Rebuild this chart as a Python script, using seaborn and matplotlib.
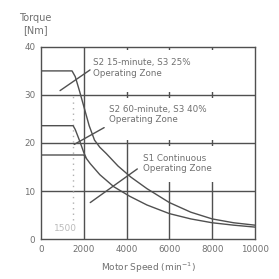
import matplotlib
matplotlib.use("Agg")
import matplotlib.pyplot as plt
import seaborn as sns
import pandas as pd
from matplotlib.patches import Rectangle

# S2 15-minute, S3 25% curve
speed_s2_15 = [0, 1450, 1600, 1800, 2050, 2250, 2500, 2750, 3050, 3600, 4200, 4950, 6000, 7000, 8000, 9000, 10000]
torque_s2_15 = [35, 35, 33.8, 30.8, 26.8, 23.6, 20.6, 19.1, 17.8, 15.2, 12.9, 10.5, 7.6, 5.6, 4.2, 3.4, 2.9]

# S2 60-minute, S3 40% curve (joins S1 curve near 2000)
speed_s2_60 = [0, 1500, 1600, 1800, 2000, 2100]
torque_s2_60 = [23.6, 23.6, 22.8, 20.5, 18.0, 17.0]

# S1 continuous curve
speed_s1 = [0, 2000, 2300, 2750, 3400, 4150, 4950, 6000, 7000, 8000, 9000, 10000]
torque_s1 = [17.5, 17.5, 15.7, 13.4, 10.9, 8.9, 7.1, 5.3, 4.2, 3.4, 2.9, 2.5]

x_ticks = [0, 2000, 4000, 6000, 8000, 10000]
y_ticks = [0, 10, 20, 30, 40]

zone_labels = ["S2 15-minute, S3 25%\nOperating Zone",
               "S2 60-minute, S3 40%\nOperating Zone",
               "S1 Continuous\nOperating Zone"]

sns.set_style("white")
plt.rcParams["font.family"] = ["DejaVu Sans"]

line_col = "#505050"
text_col = "#707070"

fig = plt.figure(figsize=(2.79, 2.79), dpi=100)
ax = fig.add_axes([0.147, 0.143, 0.767, 0.689])

# grid
for xv in x_ticks[1:-1]:
    ax.axvline(xv, color=line_col, lw=1.0, zorder=1)
for yv in y_ticks[1:-1]:
    ax.axhline(yv, color=line_col, lw=1.0, zorder=1)

# white areas behind the zone labels
for x0, y0, x1, y1 in [(2200, 30.6, 9300, 39.4), (3050, 20.6, 9300, 29.4), (4650, 11.8, 9300, 19.4)]:
    ax.add_patch(Rectangle((x0, y0), x1 - x0, y1 - y0, facecolor="white", edgecolor="none", zorder=2))

for sp, tq in [(speed_s2_15, torque_s2_15), (speed_s2_60, torque_s2_60), (speed_s1, torque_s1)]:
    df = pd.DataFrame({"speed": sp, "torque": tq})
    sns.lineplot(data=df, x="speed", y="torque", sort=False, estimator=None,
                 color=line_col, lw=1.0, ax=ax, zorder=3)

# 1500 marker
ax.plot([1500, 1500], [4, 30], color="#b0b0b0", lw=1.0, ls=(0, (1, 3)), zorder=2)
ax.text(1150, 2.3, "1500", color="#bbbbbb", fontsize=6.5, ha="center", va="center", zorder=3)

# pointers
ax.plot([2290, 890], [35.2, 30.9], color=line_col, lw=1.0, zorder=3)
ax.plot([2950, 1550], [23.2, 19.7], color=line_col, lw=1.0, zorder=3)
ax.plot([4500, 2300], [14.6, 7.6], color=line_col, lw=1.0, zorder=3)

# zone labels
ax.text(2420, 35.6, zone_labels[0], fontsize=6.3, color=text_col, ha="left", va="center", linespacing=1.15, zorder=4)
ax.text(3180, 25.9, zone_labels[1], fontsize=6.3, color=text_col, ha="left", va="center", linespacing=1.15, zorder=4)
ax.text(4770, 15.8, zone_labels[2], fontsize=6.3, color=text_col, ha="left", va="center", linespacing=1.15, zorder=4)

ax.set_xlim(0, 10000)
ax.set_ylim(0, 40)
ax.set_xticks(x_ticks)
ax.set_yticks(y_ticks)
ax.tick_params(length=0, labelsize=6.3, labelcolor=text_col, pad=4)
ax.set_xlabel("Motor Speed (min$^{-1}$)", fontsize=6.5, color=text_col, labelpad=5)
ax.set_ylabel("")
for sp in ax.spines.values():
    sp.set_color(line_col)
    sp.set_linewidth(1.0)

fig.text(35 / 279, 1 - 24 / 279, "Torque\n[Nm]", fontsize=7, color=text_col, ha="center", va="center", linespacing=1.3)

fig.savefig("out.png", dpi=100)
